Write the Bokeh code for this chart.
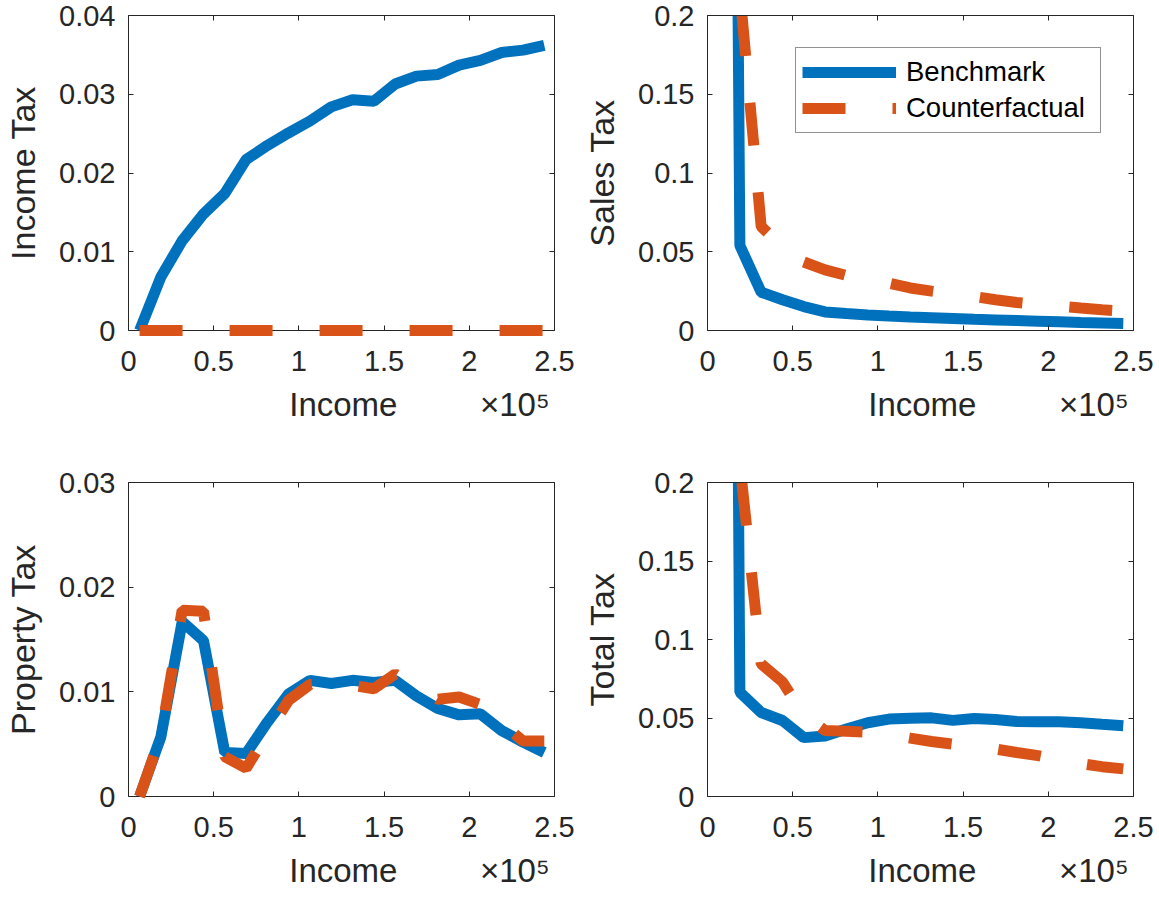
from bokeh.plotting import figure
from bokeh.models import (FixedTicker, LinearAxis, Legend, LegendItem, Range1d,
                          CustomLabelingPolicy)
from bokeh.layouts import gridplot
from bokeh.embed import file_html
from bokeh.resources import INLINE

FONT = "Liberation Sans"
INK = "#262626"
BLUE = "#0072BD"
ORANGE = "#D95319"

# Income grid (dollars)
income = [6500, 19000, 31500, 44000, 56500, 69000, 81500, 94000, 106500, 119000,
          131500, 144000, 156500, 169000, 181500, 194000, 206500, 219000, 231500, 244000]

income_tax_bench = [0.0000, 0.0068, 0.0114, 0.0148, 0.0174, 0.0217, 0.0235, 0.0251, 0.0266, 0.0284,
                    0.0293, 0.0291, 0.0313, 0.0323, 0.0325, 0.0337, 0.0343, 0.0353, 0.0356, 0.0362]
income_tax_cf = [0.0, 0.0, 0.0, 0.0, 0.0, 0.0, 0.0, 0.0, 0.0, 0.0,
                 0.0, 0.0, 0.0, 0.0, 0.0, 0.0, 0.0, 0.0, 0.0, 0.0]

sales_tax_bench = [1.8, 0.054, 0.0243, 0.0195, 0.0152, 0.0118, 0.0108, 0.0099, 0.0092, 0.0086,
                   0.0081, 0.0076, 0.0071, 0.0067, 0.0063, 0.0059, 0.0055, 0.0051, 0.0048, 0.0045]
sales_tax_cf = [2.03, 0.215, 0.066, 0.053, 0.0435, 0.0385, 0.0350, 0.0320, 0.0300, 0.0270,
                0.0250, 0.0232, 0.0216, 0.0195, 0.0178, 0.0165, 0.0155, 0.0143, 0.0132, 0.0123]

property_tax_bench = [0.0000, 0.0057, 0.0167, 0.0149, 0.0042, 0.0041, 0.0071, 0.0098, 0.0111, 0.0108,
                      0.0111, 0.0109, 0.0111, 0.0096, 0.0084, 0.0078, 0.0079, 0.0063, 0.0052, 0.0042]
property_tax_cf = [0.0000, 0.0058, 0.0178, 0.0177, 0.0038, 0.0027, 0.0060, 0.0092, 0.0107, 0.0109,
                   0.0106, 0.0103, 0.0117, 0.0105, 0.0093, 0.0095, 0.0088, 0.0070, 0.0053, 0.0053]

total_tax_bench = [2.0, 0.0664, 0.0535, 0.0484, 0.0375, 0.0385, 0.0430, 0.0470, 0.0493, 0.0498,
                   0.0501, 0.0485, 0.0497, 0.0490, 0.0478, 0.0476, 0.0476, 0.0470, 0.0460, 0.0451]
total_tax_cf = [2.206, 0.212, 0.0845, 0.073, 0.052, 0.042, 0.0415, 0.0410, 0.0395, 0.0372,
                0.0350, 0.0333, 0.0318, 0.0302, 0.0280, 0.0260, 0.0235, 0.0210, 0.0190, 0.0176]

x_ticks = [0, 50000, 100000, 150000, 200000, 250000]
x_tick_labels = ["0", "0.5", "1", "1.5", "2", "2.5"]

ticks_income = [0, 0.01, 0.02, 0.03, 0.04]
labels_income = ["0", "0.01", "0.02", "0.03", "0.04"]
ticks_property = [0, 0.01, 0.02, 0.03]
labels_property = ["0", "0.01", "0.02", "0.03"]
ticks_share = [0, 0.05, 0.1, 0.15, 0.2]
labels_share = ["0", "0.05", "0.1", "0.15", "0.2"]

# x-axis title with the scale factor pushed to the right end (non-breaking spaces keep it centred)
NBSP = "\u00a0"
x_title = NBSP * 17 + "Income" + NBSP * 9 + "×10\u2075"


def style_axis(ax, show_labels):
    ax.axis_line_color = INK
    ax.axis_line_width = 1
    ax.major_tick_line_color = INK
    ax.major_tick_in = 5
    ax.major_tick_out = 0
    ax.minor_tick_line_color = None
    ax.major_label_text_font = FONT
    ax.major_label_text_color = INK
    if show_labels:
        ax.major_label_text_font_size = "29px"
    else:
        # box axes on the top and right carry ticks only
        ax.major_label_text_font_size = "0px"
        ax.major_label_standoff = 0
        ax.major_label_policy = CustomLabelingPolicy(code="return new Set()")
    ax.axis_label_text_font = FONT
    ax.axis_label_text_font_size = "33px"
    ax.axis_label_text_font_style = "normal"
    ax.axis_label_text_color = INK


def make_panel(width, height, left, right, top, bottom, y_max, y_ticks, y_labels,
               y_title, bench, cf, level):
    p = figure(width=width, height=height, output_backend="svg", toolbar_location=None,
               x_range=Range1d(0, 250000), y_range=Range1d(0, y_max),
               min_border_left=left, min_border_right=right,
               min_border_top=top, min_border_bottom=bottom)
    p.grid.visible = False
    p.outline_line_color = None
    p.background_fill_color = "white"
    p.border_fill_color = "white"

    xa = p.xaxis[0]
    xa.ticker = FixedTicker(ticks=x_ticks)
    xa.major_label_overrides = dict(zip(x_ticks, x_tick_labels))
    xa.axis_label = x_title
    style_axis(xa, True)
    xa.major_label_standoff = 20
    xa.axis_label_standoff = 12

    ya = p.yaxis[0]
    ya.ticker = FixedTicker(ticks=y_ticks)
    ya.major_label_overrides = dict(zip(y_ticks, y_labels))
    ya.axis_label = y_title
    style_axis(ya, True)
    ya.axis_label_text_font_size = "34px"
    ya.major_label_standoff = 13
    ya.axis_label_standoff = 14

    top_axis = LinearAxis(ticker=FixedTicker(ticks=x_ticks))
    style_axis(top_axis, False)
    p.add_layout(top_axis, "above")
    right_axis = LinearAxis(ticker=FixedTicker(ticks=y_ticks))
    style_axis(right_axis, False)
    p.add_layout(right_axis, "right")

    r_bench = p.line(income, bench, line_color=BLUE, line_width=11, level=level)
    r_cf = p.line(income, cf, line_color=ORANGE, line_width=11, line_dash="43 47", level=level)
    return p, r_bench, r_cf


p1, _, _ = make_panel(580, 450, 128, 26, 15, 120, 0.04, ticks_income, labels_income,
                      "Income Tax", income_tax_bench, income_tax_cf, "overlay")
p2, rb, rc = make_panel(579, 450, 125, 26, 15, 120, 0.2, ticks_share, labels_share,
                        "Sales Tax", sales_tax_bench, sales_tax_cf, "glyph")
p3, _, _ = make_panel(580, 448, 128, 26, 32, 102, 0.03, ticks_property, labels_property,
                      "Property Tax", property_tax_bench, property_tax_cf, "overlay")
p4, _, _ = make_panel(579, 448, 125, 26, 32, 102, 0.2, ticks_share, labels_share,
                      "Total Tax", total_tax_bench, total_tax_cf, "glyph")

legend = Legend(items=[LegendItem(label="Benchmark", renderers=[rb]),
                       LegendItem(label="Counterfactual", renderers=[rc])],
                location="top_right", margin=32, padding=6, spacing=0,
                glyph_width=94, glyph_height=36, label_height=36, label_width=188,
                label_standoff=10, label_text_font=FONT, label_text_font_size="27.5px",
                label_text_color="black", border_line_color=INK, border_line_width=1,
                background_fill_color="white", background_fill_alpha=1.0)
p2.add_layout(legend)

grid = gridplot([[p1, p2], [p3, p4]], toolbar_location=None)

open("out.html", "w").write(file_html(grid, INLINE))
